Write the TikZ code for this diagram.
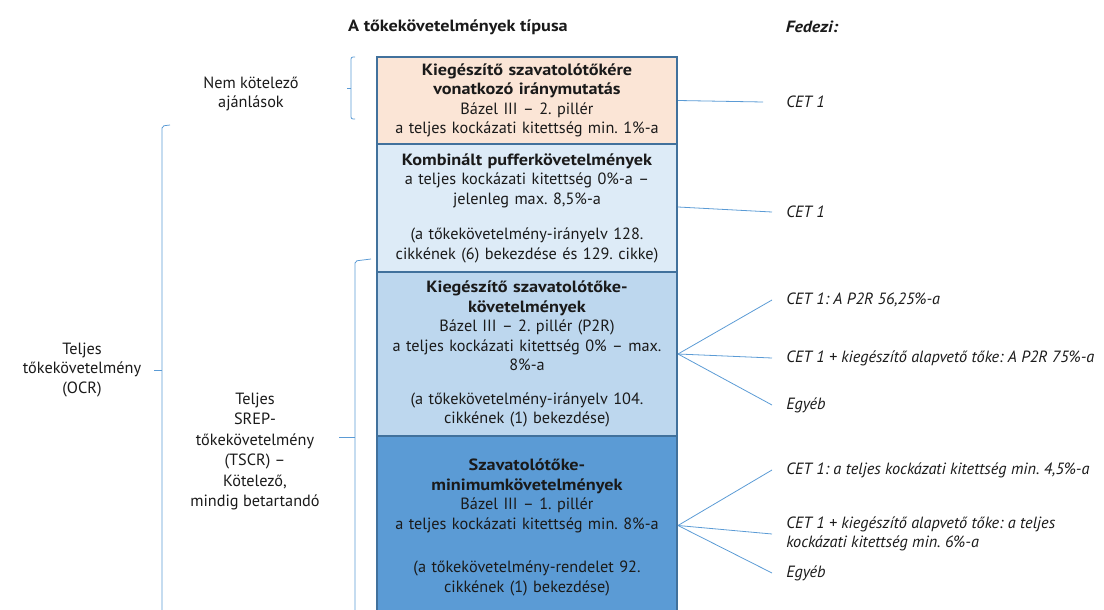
\documentclass[tikz,border=0pt]{standalone}
\usepackage{fontspec}
\setmainfont{PT Sans}[BoldFeatures={FakeStretch=1.12},BoldItalicFeatures={FakeStretch=1.1}]
\frenchspacing
\definecolor{txt}{HTML}{1A1A1A}
\definecolor{boxline}{HTML}{41719C}
\definecolor{linkblue}{HTML}{5B9BD5}
\definecolor{fillA}{HTML}{FBE5D6}
\definecolor{fillB}{HTML}{DDEBF7}
\definecolor{fillC}{HTML}{BDD7EE}
\definecolor{fillD}{HTML}{5B9BD5}
\newcommand\bodyfont{\fontsize{12.2}{14.6}\selectfont}
\begin{document}
\begin{tikzpicture}[x=0.75pt,y=-0.75pt,
  every node/.style={font=\bodyfont, text=txt, inner sep=0pt},
  layer/.style={draw=boxline, line width=1.5pt, minimum width=225pt, text width=222pt, align=center},
  cover/.style={anchor=west, align=left, inner xsep=10.5pt, inner ysep=0pt,
                font=\bodyfont\itshape},
  link/.style={draw=linkblue, line width=0.6pt},
  brace/.style={draw=linkblue, line width=0.6pt, rounded corners=1.5pt},
  side/.style={align=center}
]
\useasboundingbox (0,0) rectangle (1104,610);

% headings
\node[font=\bodyfont\bfseries] (head) at (458,27) {A tőkekövetelmények típusa};
\node[font=\bodyfont\bfseries\itshape] (fedezi) at (812,27) {Fedezi:};

% stacked requirement layers
\node[layer, fill=fillA, minimum height=65.25pt] (b1) at (527,100.5)
  {\textbf{Kiegészítő szavatolótőkére}\\\textbf{vonatkozó iránymutatás}\\Bázel III – 2. pillér\\a teljes kockázati kitettség min. 1\%-a};
\node[layer, fill=fillB, minimum height=96pt] (b2) at (527,208)
  {\textbf{Kombinált pufferkövetelmények}\\a teljes kockázati kitettség 0\%-a –\\jelenleg max. 8,5\%-a\\[12pt](a tőkekövetelmény-irányelv 128.\\cikkének (6) bekezdése és 129. cikke)};
\node[layer, fill=fillC, minimum height=123pt] (b3) at (527,354)
  {\textbf{Kiegészítő szavatolótőke-}\\\textbf{követelmények}\\Bázel III – 2. pillér (P2R)\\a teljes kockázati kitettség 0\% – max.\\8\%-a\\[10.5pt](a tőkekövetelmény-irányelv 104.\\cikkének (1) bekezdése)};
\node[layer, fill=fillD, minimum height=137.25pt] (b4) at (527,527.5)
  {\textbf{Szavatolótőke-}\\\textbf{minimumkövetelmények}\\Bázel III – 1. pillér\\a teljes kockázati kitettség min. 8\%-a\\[18pt](a tőkekövetelmény-rendelet 92.\\cikkének (1) bekezdése)};

% coverage labels
\node[cover] (c1) at (772,102) {CET 1};
\node[cover] (c2) at (772,212) {CET 1};
\node[cover] (c3a) at (772,300) {CET 1: A P2R 56,25\%-a};
\node[cover] (c3b) at (772,358) {CET 1 + kiegészítő alapvető tőke: A P2R 75\%-a};
\node[cover] (c3c) at (772,405) {Egyéb};
\node[cover] (c4a) at (772,470) {CET 1: a teljes kockázati kitettség min. 4,5\%-a};
\node[cover] (c4b) at (772,534) {CET 1 + kiegészítő alapvető tőke: a teljes\\kockázati kitettség min. 6\%-a};
\node[cover] (c4c) at (772,573) {Egyéb};

% connectors
\draw[link] (b1.east) -- ([xshift=-6.75pt]c1.west);
\draw[link] ([yshift=0.75pt]b2.east) -- (c2.west);
\draw[link] (b3.east) -- (c3a.west);
\draw[link] (b3.east) -- (c3b.west);
\draw[link] (b3.east) -- (c3c.west);
\coordinate (p4) at ([yshift=1.5pt]b4.east);
\draw[link] (p4) -- (c4a.west);
\draw[link] (p4) -- (c4b.west);
\draw[link] (p4) -- (c4c.west);

% group braces
\draw[brace] (355,57) -- (351,57) -- (351,119) -- (355,119);
\draw[brace] (351,88) -- (347,88);
\draw[brace] (170,125) -- (162,126) -- (162,620);
\draw[brace] (162,370) -- (154,370);
\draw[brace] (371,259) -- (355,261) -- (355,620);
\draw[brace] (355,437) -- (339,437);

% group labels
\node[side] (nk) at (251,94) {Nem kötelező\\ajánlások};
\node[side] (ocr) at (82,370) {Teljes\\tőkekövetelmény\\(OCR)};
\node[side, font=\fontsize{12.2}{15.3}\selectfont] (tscr) at (255,451.5) {Teljes\\SREP-\\tőkekövetelmény\\(TSCR) –\\Kötelező,\\mindig betartandó};
\end{tikzpicture}
\end{document}
